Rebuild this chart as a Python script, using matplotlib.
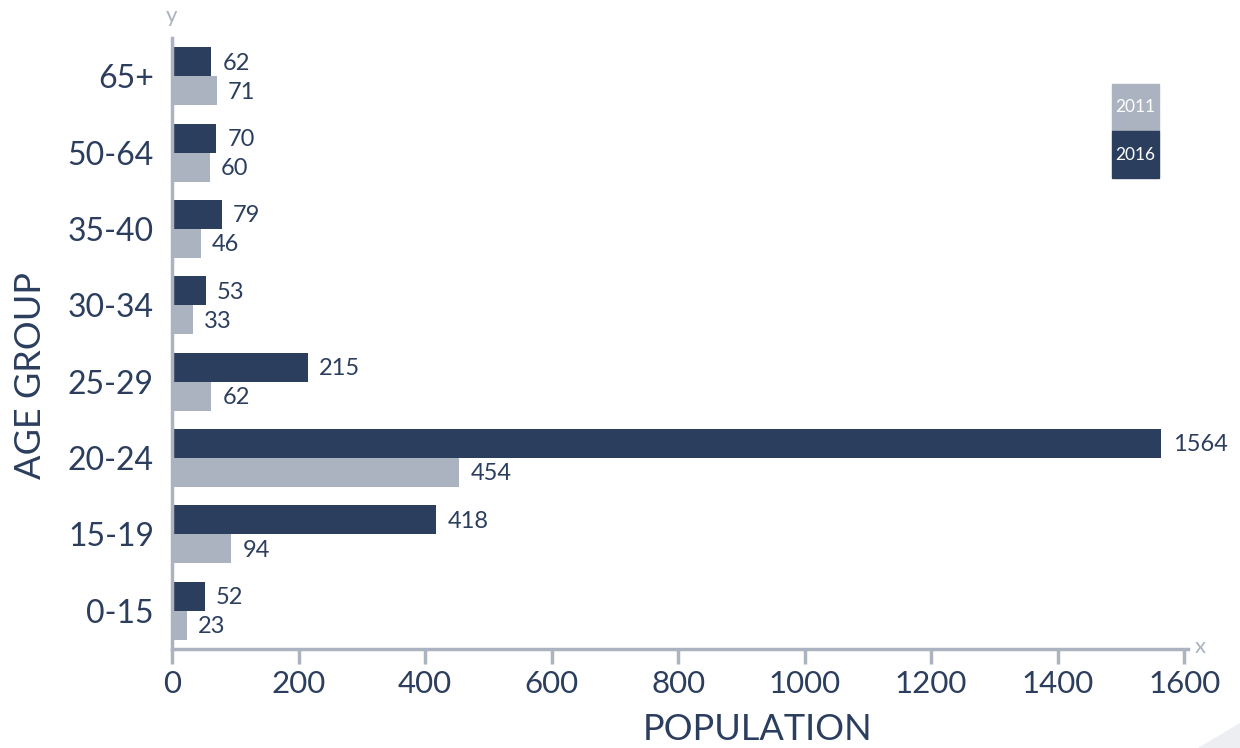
import matplotlib.pyplot as plt
import numpy as np
from matplotlib.patches import Polygon, Rectangle

age_groups = ["0-15", "15-19", "20-24", "25-29", "30-34", "35-40", "50-64", "65+"]
pop_2016 = [52, 418, 1564, 215, 53, 79, 70, 62]
pop_2011 = [23, 94, 454, 62, 33, 46, 60, 71]
x_ticks = [0, 200, 400, 600, 800, 1000, 1200, 1400, 1600]

DARK = "#2c3e5e"
LIGHT = "#aab3bf"
TEXT = "#2c3e5e"
AXIS = "#aab3bf"


def main() -> None:
    plt.rcParams["font.family"] = ["Lato", "DejaVu Sans"]
    fig = plt.figure(figsize=(12.4, 7.48), dpi=100)
    ax = fig.add_axes([172 / 1240, 1 - 649 / 748, (1188 - 172) / 1240, (649 - 38) / 748])

    y = np.arange(len(age_groups))
    h = 0.38
    bars_new = ax.barh(y + h / 2, pop_2016, height=h, color=DARK)
    bars_old = ax.barh(y - h / 2, pop_2011, height=h, color=LIGHT)

    for bars, vals in ((bars_new, pop_2016), (bars_old, pop_2011)):
        for bar, v in zip(bars, vals):
            ax.annotate(str(v), (v, bar.get_y() + bar.get_height() / 2),
                        xytext=(8, -1), textcoords="offset points",
                        va="center", ha="left", fontsize=17, color=TEXT)

    ax.set_xlim(0, 1606)
    ax.set_ylim(-0.5, 7.5)
    ax.set_xticks(x_ticks)
    ax.set_yticks(y)
    ax.set_yticklabels(age_groups)
    ax.tick_params(axis="x", length=11, width=2.5, color=AXIS, labelsize=22.5,
                   labelcolor=TEXT, pad=4)
    ax.tick_params(axis="y", length=0, labelsize=23, labelcolor=TEXT, pad=13)

    for side in ("top", "right"):
        ax.spines[side].set_visible(False)
    for side in ("left", "bottom"):
        ax.spines[side].set_color(AXIS)
        ax.spines[side].set_linewidth(2.5)

    ax.set_xlabel("POPULATION", fontsize=26, color=TEXT)
    ax.set_ylabel("AGE GROUP", fontsize=26, color=TEXT)
    ax.xaxis.set_label_coords(0.576, -0.105)
    ax.yaxis.set_label_coords(-0.123, 0.447)

    # little axis letters at the ends of the spines
    fig.text(172 / 1240, 1 - 16 / 748, "y", fontsize=16, color=AXIS,
             ha="center", va="center")
    fig.text(1200 / 1240, 1 - 647 / 748, "x", fontsize=16, color=AXIS,
             ha="center", va="center")

    # stacked colour-block legend
    lx0, lx1 = 1112 / 1240, 1159 / 1240
    for top, bot, col, lab in ((84, 131, LIGHT, "2011"), (131, 178, DARK, "2016")):
        fig.patches.append(Rectangle((lx0, 1 - bot / 748), lx1 - lx0, (bot - top) / 748,
                                     transform=fig.transFigure, color=col))
        fig.text((lx0 + lx1) / 2, 1 - (top + bot) / 2 / 748, lab, fontsize=12.5,
                 color="white", ha="center", va="center")

    # corner decoration
    fig.patches.append(Polygon([(1198 / 1240, 0), (1, 0), (1, 25 / 748)],
                               closed=True, transform=fig.transFigure,
                               color="#eceef1", zorder=0))

    fig.savefig("out.png", dpi=100)


if __name__ == "__main__":
    main()
